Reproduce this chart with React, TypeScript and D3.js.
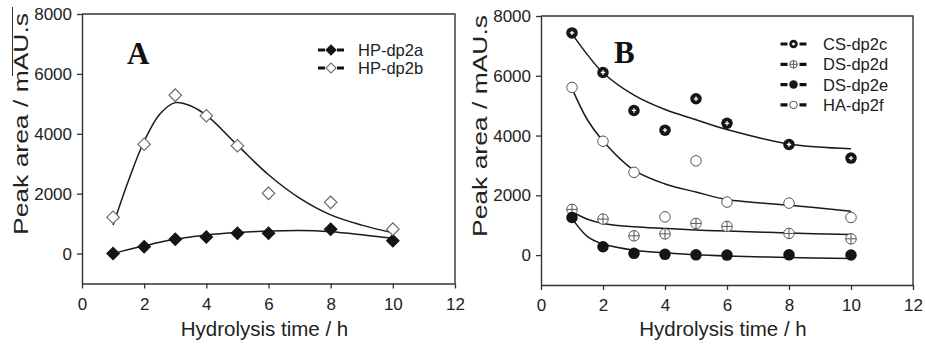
import * as React from 'react';
import * as d3 from 'd3';

// hours sampled in both panels
const hoursA = [1, 2, 3, 4, 5, 6, 8, 10];
const hpDp2a = [0, 230, 475, 550, 680, 675, 810, 425];
const hpDp2b = [1210, 3650, 5290, 4600, 3600, 2010, 1710, 815];

// fitted curves
const fitHoursA = [1, 1.5, 2, 2.5, 3, 3.5, 4, 5, 6, 7, 8, 9, 10];
const hpDp2aFit = [0, 135, 260, 380, 480, 555, 620, 700, 750, 770, 730, 630, 510];
const hpDp2bFit = [950, 2450, 3750, 4650, 5040, 4930, 4620, 3620, 2630, 1850, 1290, 950, 695];

const hoursB = [1, 2, 3, 4, 5, 6, 8, 10];
const csDp2c = [7435, 6110, 4840, 4180, 5230, 4410, 3700, 3245];
const dsDp2d = [1530, 1205, 645, 710, 1060, 960, 725, 545];
const dsDp2e = [1260, 280, 60, 25, 10, 0, 10, 5];
const haDp2f = [5610, 3810, 2770, 1280, 3155, 1775, 1740, 1260];

const fitHoursB = [1, 1.5, 2, 3, 4, 5, 6, 8, 10];
const csDp2cFit = [7400, 6700, 6100, 5350, 4870, 4530, 4200, 3720, 3560];
const dsDp2dFit = [1450, 1200, 1060, 945, 890, 840, 805, 740, 690];
const dsDp2eFit = [1230, 620, 370, 165, 80, 10, -30, -80, -115];
const haDp2fFit = [5580, 4520, 3820, 2840, 2380, 2110, 1860, 1670, 1470];

const xTicks = [0, 2, 4, 6, 8, 10, 12];
const yTicks = [0, 2000, 4000, 6000, 8000];

const SANS = '"Liberation Sans", Arial, sans-serif';
const SERIF = '"Liberation Serif", "Times New Roman", serif';

function drawMarker(g, kind, cx, cy, s) {
    if (kind === 'diamondFilled' || kind === 'diamondOpen') {
        g.append('path')
            .attr('d', d3.symbol(d3.symbolSquare, s * s * 0.5)())
            .attr('transform', 'translate(' + cx + ',' + cy + ') rotate(45)')
            .attr('fill', kind === 'diamondFilled' ? '#151515' : '#fff')
            .attr('stroke', kind === 'diamondFilled' ? '#151515' : '#666')
            .attr('stroke-width', 1.1);
        return;
    }
    let r = s / 2;
    if (kind === 'circlePlus') {
        g.append('circle').attr('cx', cx).attr('cy', cy).attr('r', r).attr('fill', '#151515');
        let a = r * 0.38;
        g.append('path')
            .attr('d', 'M' + (cx - a) + ',' + cy + 'H' + (cx + a) + 'M' + cx + ',' + (cy - a) + 'V' + (cy + a))
            .attr('stroke', '#fff').attr('stroke-width', 1.3);
    } else if (kind === 'circleFilled') {
        g.append('circle').attr('cx', cx).attr('cy', cy).attr('r', r).attr('fill', '#151515');
    } else if (kind === 'circleCross') {
        g.append('circle').attr('cx', cx).attr('cy', cy).attr('r', r - 0.5)
            .attr('fill', '#fff').attr('stroke', '#555').attr('stroke-width', 1);
        g.append('path')
            .attr('d', 'M' + (cx - r + 0.5) + ',' + cy + 'H' + (cx + r - 0.5) + 'M' + cx + ',' + (cy - r + 0.5) + 'V' + (cy + r - 0.5))
            .attr('stroke', '#555').attr('stroke-width', 1);
    } else {
        g.append('circle').attr('cx', cx).attr('cy', cy).attr('r', r - 0.5)
            .attr('fill', '#fff').attr('stroke', '#555').attr('stroke-width', 1);
    }
}

function drawPanel(svg, cfg) {
    let x = d3.scaleLinear().domain([0, 12]).range([cfg.left, cfg.right]);
    let y = d3.scaleLinear().domain([-1000, 8000]).range([cfg.bottom, cfg.top]);

    let g = svg.append('g');

    // frame
    g.append('path')
        .attr('d', 'M' + cfg.left + ',' + cfg.top + 'H' + cfg.right + 'V' + cfg.bottom)
        .attr('fill', 'none').attr('stroke', '#333').attr('stroke-width', 1.4);

    let xAxis = d3.axisBottom(x).tickValues(xTicks).tickFormat(d3.format('d')).tickSize(5).tickSizeOuter(0).tickPadding(9);
    let yAxis = d3.axisLeft(y).tickValues(yTicks).tickFormat(d3.format('d')).tickSize(5).tickSizeOuter(0).tickPadding(5);

    let gx = g.append('g').attr('transform', 'translate(0,' + cfg.bottom + ')').call(xAxis);
    let gy = g.append('g').attr('transform', 'translate(' + cfg.left + ',0)').call(yAxis);
    [gx, gy].forEach(function(a) {
        a.select('.domain').attr('stroke', '#333').attr('stroke-width', 1.4);
        a.selectAll('.tick line').attr('stroke', '#333').attr('stroke-width', 1.3);
        a.selectAll('.tick text')
            .attr('fill', '#222')
            .style('font-family', SANS)
            .style('font-size', '17px');
    });

    // axis titles
    g.append('text')
        .attr('x', (cfg.left + cfg.right) / 2 - 4)
        .attr('y', 336)
        .attr('text-anchor', 'middle')
        .style('font-family', SANS)
        .style('font-size', '20.5px')
        .attr('fill', '#222')
        .text('Hydrolysis time / h');
    g.append('text')
        .attr('transform', 'translate(' + cfg.yTitleX + ',' + cfg.yTitleY + ') rotate(-90)')
        .attr('text-anchor', 'middle')
        .attr('textLength', 222)
        .attr('lengthAdjust', 'spacingAndGlyphs')
        .style('font-family', SANS)
        .style('font-size', '20.5px')
        .attr('fill', '#222')
        .text('Peak area / mAU.s');

    // panel letter
    g.append('text')
        .attr('x', cfg.letterX)
        .attr('y', cfg.letterY)
        .style('font-family', SERIF)
        .style('font-weight', 'bold')
        .style('font-size', '31px')
        .attr('fill', '#111')
        .text(cfg.letter);

    let line = d3.line()
        .x(function(d) { return x(d[0]); })
        .y(function(d) { return y(d[1]); })
        .curve(d3.curveCatmullRom.alpha(0.5));

    cfg.series.forEach(function(s) {
        g.append('path')
            .datum(d3.zip(cfg.fitHours, s.fit))
            .attr('d', line)
            .attr('fill', 'none')
            .attr('stroke', '#1a1a1a')
            .attr('stroke-width', 1.5);
    });
    cfg.series.forEach(function(s) {
        cfg.hours.forEach(function(h, i) {
            drawMarker(g, s.marker, x(h), y(s.values[i]), cfg.markerSize);
        });
    });

    // legend
    cfg.series.forEach(function(s, i) {
        let ly = cfg.legendY + i * cfg.legendStep;
        let lx = cfg.legendX;
        g.append('path')
            .attr('d', 'M' + (lx - 13) + ',' + ly + 'H' + (lx - 6) + 'M' + (lx + 6) + ',' + ly + 'H' + (lx + 13))
            .attr('stroke', '#111').attr('stroke-width', 3.2);
        drawMarker(g, s.marker, lx, ly, cfg.legendMarkerSize);
        g.append('text')
            .attr('x', cfg.legendTextX)
            .attr('y', ly)
            .attr('dy', '0.36em')
            .style('font-family', SANS)
            .style('font-size', '16.5px')
            .attr('fill', '#222')
            .text(s.name);
    });
}

class App extends React.Component<any, any> {
    componentDidMount() {
        this.createChart();
    }

    createChart() {
        d3.select('.chart svg').remove();
        let svg = d3.select('.chart')
            .append('svg')
            .attr('width', 925)
            .attr('height', 344)
            .style('position', 'absolute')
            .style('left', '0px')
            .style('top', '0px')
            .style('background', '#fff');

        drawPanel(svg, {
            left: 82, right: 455, top: 14, bottom: 283.5,
            yTitleX: 28, yTitleY: 124,
            letter: 'A', letterX: 127, letterY: 64,
            hours: hoursA, fitHours: fitHoursA,
            markerSize: 12.5, legendMarkerSize: 10,
            legendX: 331, legendY: 50, legendStep: 18, legendTextX: 358,
            series: [
                { name: 'HP-dp2a', marker: 'diamondFilled', values: hpDp2a, fit: hpDp2aFit },
                { name: 'HP-dp2b', marker: 'diamondOpen', values: hpDp2b, fit: hpDp2bFit }
            ]
        });

        // stray rule beside the left title in the source
        svg.append('line')
            .attr('x1', 12.5).attr('x2', 12.5).attr('y1', 7).attr('y2', 76)
            .attr('stroke', '#333').attr('stroke-width', 1);

        drawPanel(svg, {
            left: 541, right: 913, top: 16, bottom: 285,
            yTitleX: 487, yTitleY: 126,
            letter: 'B', letterX: 614, letterY: 63,
            hours: hoursB, fitHours: fitHoursB,
            markerSize: 11.5, legendMarkerSize: 8.5,
            legendX: 793.5, legendY: 44, legendStep: 20.3, legendTextX: 823,
            series: [
                { name: 'CS-dp2c', marker: 'circlePlus', values: csDp2c, fit: csDp2cFit },
                { name: 'DS-dp2d', marker: 'circleCross', values: dsDp2d, fit: dsDp2dFit },
                { name: 'DS-dp2e', marker: 'circleFilled', values: dsDp2e, fit: dsDp2eFit },
                { name: 'HA-dp2f', marker: 'circleOpen', values: haDp2f, fit: haDp2fFit }
            ]
        });
    }

    render() {
        return (
            <div className="chart"></div>
        );
    }
}

export default App
